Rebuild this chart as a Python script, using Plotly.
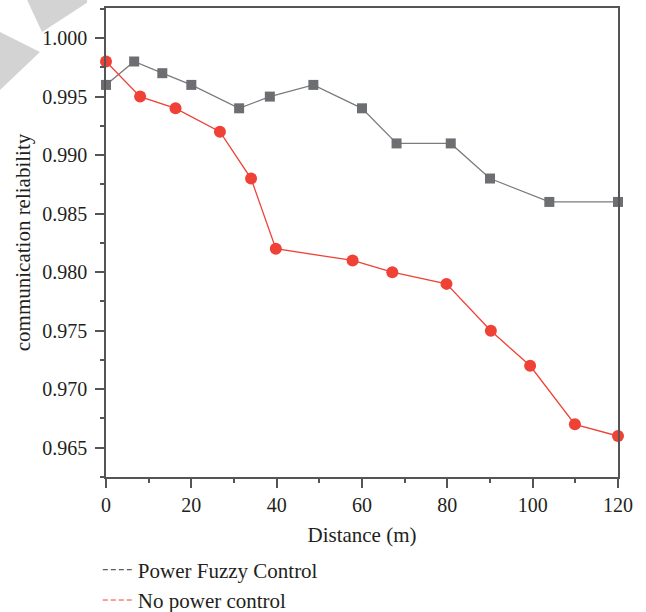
import plotly.graph_objects as go

# Data
fuzzy_x = [0, 6.6, 13.2, 20, 31.2, 38.4, 48.6, 60, 68.1, 80.8, 90, 103.9, 120]
fuzzy_y = [0.996, 0.998, 0.997, 0.996, 0.994, 0.995, 0.996, 0.994, 0.991, 0.991, 0.988, 0.986, 0.986]

nopc_x = [0, 8.0, 16.3, 26.7, 34.0, 39.8, 57.8, 67.1, 79.8, 90.2, 99.4, 109.9, 120]
nopc_y = [0.998, 0.995, 0.994, 0.992, 0.988, 0.982, 0.981, 0.980, 0.979, 0.975, 0.972, 0.967, 0.966]

series_names = ["Power Fuzzy Control", "No power control"]
x_title = "Distance (m)"
y_title = "communication reliability"

GRAY = "#6d6e71"
GRAY_LINE = "#7a7b7e"
RED = "#ef4136"
AXIS = "#555555"
TEXT = "#231f20"
FONT = "Liberation Serif, Times New Roman, serif"

fig = go.Figure()

fig.add_trace(go.Scatter(
    x=fuzzy_x, y=fuzzy_y, mode="lines+markers", showlegend=False,
    line=dict(color=GRAY_LINE, width=1.3),
    marker=dict(symbol="square", size=10, color=GRAY),
    cliponaxis=False,
))
fig.add_trace(go.Scatter(
    x=nopc_x, y=nopc_y, mode="lines+markers", showlegend=False,
    line=dict(color=RED, width=1.3),
    marker=dict(symbol="circle", size=12, color=RED),
    cliponaxis=False,
))
# legend-only entries (dashed line symbols)
fig.add_trace(go.Scatter(x=[None], y=[None], mode="lines", name=series_names[0],
                         line=dict(color="#333333", width=1, dash="5px,3px")))
fig.add_trace(go.Scatter(x=[None], y=[None], mode="lines", name=series_names[1],
                         line=dict(color=RED, width=1, dash="5px,3px")))

# decorative grey shapes at top-left
fig.add_shape(type="path", xref="paper", yref="paper",
              path="M -0.154 1.017 L -0.037 1.017 L -0.037 1.011 L -0.125 0.949 Z",
              fillcolor="#d3d3d3", line=dict(width=0), layer="below")
fig.add_shape(type="path", xref="paper", yref="paper",
              path="M -0.207 0.949 L -0.129 0.906 L -0.207 0.825 Z",
              fillcolor="#d3d3d3", line=dict(width=0), layer="below")

fig.update_layout(
    width=646, height=612,
    margin=dict(l=106, r=28, t=8, b=135, autoexpand=False),
    paper_bgcolor="white", plot_bgcolor="white",
    font=dict(family=FONT, size=20, color=TEXT),
    legend=dict(xref="paper", yref="container", x=-0.016, y=0.102,
                xanchor="left", yanchor="top",
                font=dict(family=FONT, size=21, color=TEXT),
                bgcolor="rgba(0,0,0,0)", tracegroupgap=0, itemwidth=30),
    showlegend=True,
)

fig.update_xaxes(
    range=[0, 120], tick0=0, dtick=20, automargin=False,
    showline=True, linecolor=AXIS, linewidth=1.5, mirror=True,
    ticks="outside", ticklen=9, tickwidth=1.5, tickcolor=AXIS,
    minor=dict(ticks="outside", ticklen=4, tickwidth=1.5, tickcolor=AXIS, dtick=10, tick0=0),
    showgrid=False, zeroline=False,
    tickfont=dict(family=FONT, size=20, color=TEXT),
    title=dict(text=x_title, font=dict(family=FONT, size=21, color=TEXT), standoff=13),
)
fig.update_yaxes(
    range=[0.9625, 1.00257], tick0=0.965, dtick=0.005, tickformat=".3f", automargin=False,
    showline=True, linecolor=AXIS, linewidth=1.5, mirror=True,
    ticks="outside", ticklen=9, tickwidth=1.5, tickcolor=AXIS, ticklabelstandoff=4,
    minor=dict(ticks="outside", ticklen=4, tickwidth=1.5, tickcolor=AXIS, dtick=0.0025, tick0=0.965),
    showgrid=False, zeroline=False,
    tickfont=dict(family=FONT, size=20, color=TEXT),
    title=dict(text=y_title, font=dict(family=FONT, size=21, color=TEXT), standoff=6),
)

fig.write_html("out.html", config={"displayModeBar": False},
               post_script="document.body.style.margin='0';")
